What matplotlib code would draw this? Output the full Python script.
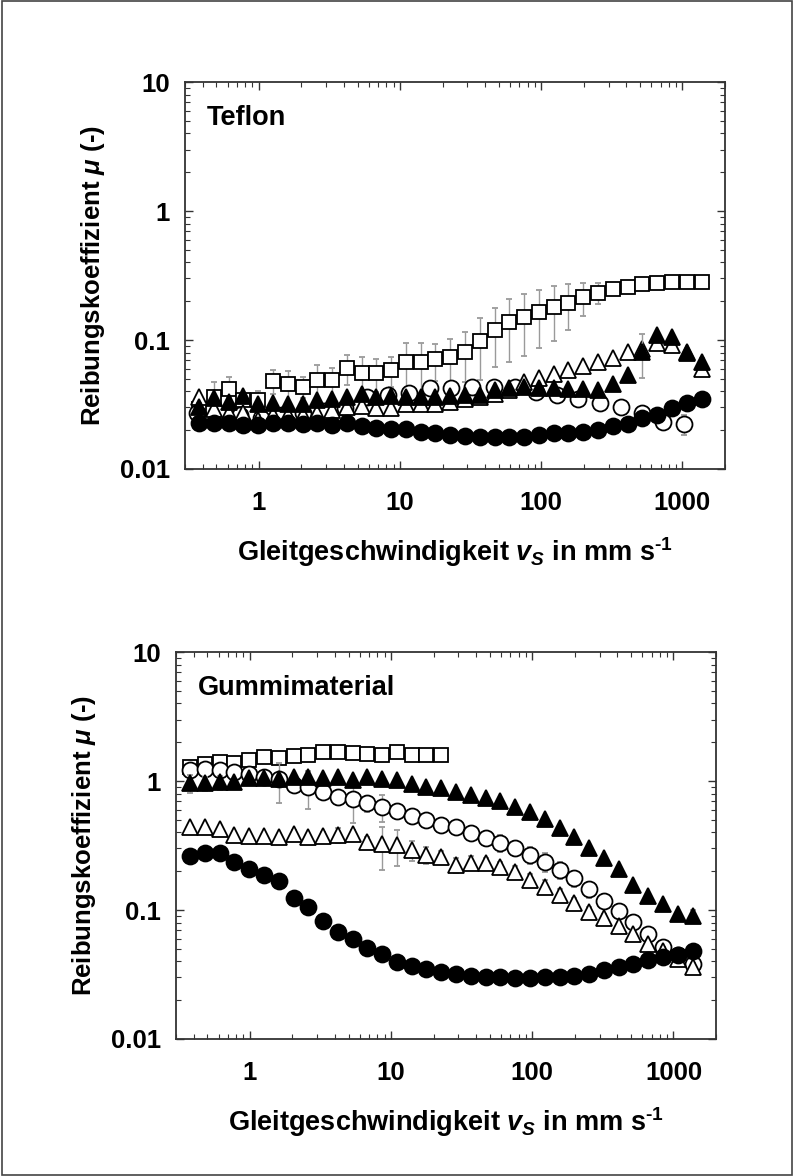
import matplotlib
matplotlib.use("Agg")
import matplotlib.pyplot as plt
from matplotlib.ticker import LogLocator, NullFormatter, FixedLocator, FixedFormatter
from matplotlib.patches import Rectangle

plt.rcParams["font.family"] = ["Liberation Sans", "DejaVu Sans"]
plt.rcParams["font.weight"] = "bold"
plt.rcParams["mathtext.fontset"] = "custom"
plt.rcParams["mathtext.rm"] = "Liberation Sans:bold"
plt.rcParams["mathtext.it"] = "Liberation Sans:bold:italic"
plt.rcParams["mathtext.bf"] = "Liberation Sans:bold"

# sliding speeds (mm/s) of the fine measurement grid
v_fine = [0.377, 0.480, 0.610, 0.776, 0.988, 1.257, 1.60, 2.04, 2.59, 3.30,
          4.20, 5.34, 6.80, 8.65, 11.0, 14.0, 17.8, 22.7, 28.9, 36.7,
          46.8, 59.5, 75.7, 96.4, 122.7, 156, 199, 253, 322, 409,
          521, 663, 844, 1074, 1366]
# sliding speeds (mm/s) of the coarser grid
v_coarse = [0.366, 0.516, 0.730, 1.03, 1.456, 2.056, 2.904, 4.10, 5.79, 8.18,
            11.56, 16.3, 23.1, 32.6, 46.0, 65.0, 91.8, 129.7, 183.2, 258.8,
            365.6, 516, 729, 1030]

# --- Teflon ---
tef_square = [0.029, 0.0364, 0.0414, 0.034, 0.0343, 0.0481, 0.0456, 0.0435, 0.049, 0.049,
              0.061, 0.0558, 0.0558, 0.0585, 0.0671, 0.0671, 0.0709, 0.0743, 0.0811, 0.0989,
              0.1196, 0.1387, 0.1518, 0.166, 0.181, 0.195, 0.214, 0.233, 0.249, 0.259,
              0.270, 0.278, 0.280, 0.280, 0.283]
tef_square_err = [0.004, 0.011, 0.010, 0.005, 0.006, 0.010, 0.012, 0.008, 0.015, 0.012,
                  0.016, 0.018, 0.016, 0.015, 0.028, 0.028, 0.023, 0.028, 0.034, 0.050,
                  0.058, 0.071, 0.077, 0.080, 0.082, 0.075, 0.061, 0.042, 0.020, 0.008,
                  0.005, 0.004, 0.004, 0.004, 0.004]
tef_circle_open = [0.0273, 0.027, 0.0262, 0.025, 0.026, 0.027, 0.028, 0.0295, 0.0364, 0.0378,
                   0.039, 0.0422, 0.0426, 0.043, 0.043, 0.043, 0.0398, 0.0375, 0.0348, 0.0323,
                   0.0304, 0.027, 0.0233, 0.0224]
tef_circle_open_err = [0.002, 0.002, 0.002, 0.004, 0.002, 0.002, 0.002, 0.002, 0.003, 0.003,
                       0.003, 0.003, 0.003, 0.003, 0.003, 0.003, 0.003, 0.003, 0.003, 0.003,
                       0.003, 0.003, 0.003, 0.004]
tef_tri_open = [0.036, 0.029, 0.027, 0.027, 0.024, 0.026, 0.026, 0.026, 0.027, 0.0287,
                0.030, 0.031, 0.0295, 0.0295, 0.032, 0.032, 0.032, 0.033, 0.035, 0.036,
                0.038, 0.041, 0.0475, 0.051, 0.0545, 0.0585, 0.063, 0.068, 0.072, 0.081,
                0.085, 0.094, 0.092, 0.079, 0.060]
tef_tri_open_err = [0.002] * 35
tef_tri_fill = [0.0304, 0.0357, 0.0333, 0.0368, 0.0319, 0.0323, 0.0319, 0.0319, 0.0343, 0.0348,
                0.036, 0.0381, 0.0364, 0.0368, 0.0364, 0.0364, 0.0364, 0.0368, 0.0375, 0.0375,
                0.041, 0.0422, 0.043, 0.0422, 0.0422, 0.0414, 0.0414, 0.041, 0.0453, 0.0536,
                0.0804, 0.109, 0.105, 0.0811, 0.0679]
tef_tri_fill_err = [0.002] * 30 + [0.030, 0.004, 0.004, 0.004, 0.005]
tef_circle_fill = [0.0226, 0.0228, 0.0226, 0.0219, 0.0219, 0.0228, 0.0226, 0.0224, 0.0226, 0.0219,
                   0.0226, 0.0215, 0.0208, 0.0204, 0.0204, 0.0195, 0.0190, 0.0184, 0.0181, 0.0178,
                   0.0176, 0.0176, 0.0178, 0.0184, 0.0191, 0.0191, 0.0195, 0.0201, 0.0217, 0.0222,
                   0.0250, 0.0263, 0.0296, 0.0324, 0.0347]
tef_circle_fill_err = [0.001] * 35

# --- Gummimaterial ---
gum_square = [1.28, 1.35, 1.40, 1.38, 1.46, 1.55, 1.50, 1.56, 1.58, 1.67,
              1.68, 1.64, 1.62, 1.60, 1.68, 1.60, 1.59, 1.59]
gum_square_err = [0.08, 0.08, 0.10, 0.08, 0.06, 0.05, 0.05, 0.05, 0.05, 0.05,
                  0.05, 0.05, 0.05, 0.05, 0.05, 0.05, 0.05, 0.05]
gum_circle_open = [1.217, 1.232, 1.217, 1.181, 1.127, 1.068, 1.03, 0.931, 0.904, 0.826,
                   0.756, 0.721, 0.671, 0.632, 0.585, 0.536, 0.498, 0.46, 0.438, 0.397,
                   0.363, 0.333, 0.301, 0.267, 0.237, 0.204, 0.176, 0.145, 0.118, 0.099,
                   0.081, 0.065, 0.052, 0.045, 0.038]
gum_circle_open_err = [0.10, 0.10, 0.12, 0.10, 0.10, 0.08, 0.35, 0.08, 0.30, 0.10,
                       0.10, 0.25, 0.10, 0.15, 0.08, 0.07, 0.06, 0.06, 0.05, 0.05,
                       0.05, 0.05, 0.04, 0.04, 0.04, 0.03, 0.025, 0.02, 0.015, 0.012,
                       0.010, 0.008, 0.006, 0.005, 0.004]
gum_tri_fill = [0.959, 0.959, 0.977, 0.977, 1.049, 1.049, 1.03, 1.068, 1.068, 1.049,
                1.068, 1.018, 1.068, 1.03, 1.018, 0.943, 0.904, 0.878, 0.817, 0.779,
                0.734, 0.700, 0.632, 0.578, 0.505, 0.435, 0.370, 0.301, 0.252, 0.207,
                0.156, 0.128, 0.111, 0.0926, 0.0898]
gum_tri_fill_err = [0.15, 0.12, 0.12, 0.05, 0.05, 0.05, 0.05, 0.05, 0.05, 0.05,
                    0.05, 0.05, 0.05, 0.05, 0.05, 0.04, 0.04, 0.04, 0.03, 0.03,
                    0.03, 0.03, 0.03, 0.02, 0.02, 0.02, 0.02, 0.015, 0.012, 0.01,
                    0.008, 0.006, 0.006, 0.006, 0.01]
gum_tri_open = [0.438, 0.438, 0.422, 0.381, 0.377, 0.375, 0.366, 0.388, 0.370, 0.375,
                0.381, 0.386, 0.338, 0.323, 0.319, 0.292, 0.267, 0.259, 0.224, 0.233,
                0.233, 0.217, 0.198, 0.171, 0.152, 0.131, 0.113, 0.097, 0.0865, 0.075,
                0.065, 0.055, 0.048, 0.042, 0.036]
gum_tri_open_err = [0.02, 0.02, 0.02, 0.02, 0.02, 0.02, 0.02, 0.03, 0.02, 0.03,
                    0.05, 0.03, 0.03, 0.12, 0.10, 0.05, 0.04, 0.03, 0.03, 0.03,
                    0.02, 0.02, 0.02, 0.02, 0.02, 0.015, 0.01, 0.008, 0.006, 0.005,
                    0.005, 0.004, 0.004, 0.004, 0.003]
gum_circle_fill = [0.262, 0.275, 0.275, 0.237, 0.207, 0.187, 0.168, 0.125, 0.105, 0.0827,
                   0.0679, 0.0596, 0.051, 0.0453, 0.0397, 0.037, 0.0349, 0.0333, 0.032, 0.031,
                   0.030, 0.030, 0.0295, 0.0295, 0.030, 0.030, 0.031, 0.032, 0.034, 0.036,
                   0.038, 0.041, 0.043, 0.045, 0.048]
gum_circle_fill_err = [0.03, 0.03, 0.03, 0.01, 0.01, 0.01, 0.015, 0.01, 0.01, 0.004,
                       0.003, 0.003, 0.002, 0.002, 0.002, 0.002, 0.002, 0.002, 0.002, 0.002,
                       0.002, 0.002, 0.002, 0.002, 0.002, 0.002, 0.002, 0.002, 0.002, 0.002,
                       0.002, 0.002, 0.002, 0.002, 0.003]

ytick_vals = [0.01, 0.1, 1, 10]
ytick_text = ["0.01", "0.1", "1", "10"]
xtick_vals = [1, 10, 100, 1000]
xtick_text = ["1", "10", "100", "1000"]

fig = plt.figure(figsize=(7.94, 11.76), dpi=100)
fig.patches.append(Rectangle((0.002, 0.001), 0.996, 0.998, transform=fig.transFigure,
                             fill=False, edgecolor="#444444", linewidth=1.2))

ERR = dict(ecolor="#9a9a9a", elinewidth=1.0, capsize=2.5, capthick=1.0, linestyle="none")
MS_C = 11.5
MS_T = 11.5
MS_S = 10.0


def draw(ax, v, y, err, marker, filled, ms, z):
    ax.errorbar(v, y, yerr=err, marker=marker, markersize=ms,
                markerfacecolor="black" if filled else "white",
                markeredgecolor="black", markeredgewidth=1.3,
                zorder=z, **ERR)


def style(ax, title):
    ax.set_xscale("log")
    ax.set_yscale("log")
    ax.set_xlim(0.3, 2000)
    ax.set_ylim(0.01, 10)
    ax.xaxis.set_major_locator(FixedLocator(xtick_vals))
    ax.xaxis.set_major_formatter(FixedFormatter(xtick_text))
    ax.yaxis.set_major_locator(FixedLocator(ytick_vals))
    ax.yaxis.set_major_formatter(FixedFormatter(ytick_text))
    ax.xaxis.set_minor_locator(LogLocator(base=10, subs=range(2, 10)))
    ax.yaxis.set_minor_locator(LogLocator(base=10, subs=range(2, 10)))
    ax.xaxis.set_minor_formatter(NullFormatter())
    ax.yaxis.set_minor_formatter(NullFormatter())
    ax.tick_params(which="both", direction="in", top=True, right=True,
                   color="#333333")
    ax.tick_params(which="major", length=6, width=1.0, labelsize=18.5, pad=11)
    ax.tick_params(which="minor", length=3.5, width=0.8)
    ax.tick_params(axis="x", which="major", pad=16)
    for lab in ax.get_xticklabels() + ax.get_yticklabels():
        lab.set_fontweight("bold")
    for sp in ax.spines.values():
        sp.set_linewidth(1.3)
        sp.set_color("#333333")
    ax.set_xlabel(r"Gleitgeschwindigkeit $v_S$ in mm s$^{\text{-1}}$",
                  fontsize=19.5, fontweight="bold")
    ax.set_ylabel(r"Reibungskoeffizient $\mu$ (-)", fontsize=18.5, fontweight="bold")
    ax.xaxis.set_label_coords(0.5, -0.172)
    ax.yaxis.set_label_coords(-0.145, 0.5)
    ax.text(0.041, 0.94, title, transform=ax.transAxes, fontsize=19.5,
            fontweight="bold", va="top", ha="left")


# top panel: Teflon
ax1 = fig.add_axes([0.233, 0.6012, 0.680, 0.329])
draw(ax1, v_fine, tef_square, tef_square_err, "s", False, MS_S, 3)
draw(ax1, v_coarse, tef_circle_open, tef_circle_open_err, "o", False, MS_C, 4)
draw(ax1, v_fine, tef_tri_open, tef_tri_open_err, "^", False, MS_T, 5)
draw(ax1, v_fine, tef_tri_fill, tef_tri_fill_err, "^", True, MS_T, 6)
draw(ax1, v_fine, tef_circle_fill, tef_circle_fill_err, "o", True, MS_C, 7)
style(ax1, "Teflon")

# bottom panel: Gummimaterial
ax2 = fig.add_axes([0.2217, 0.1165, 0.680, 0.329])
draw(ax2, v_fine[:len(gum_square)], gum_square, gum_square_err, "s", False, MS_S, 3)
draw(ax2, v_fine, gum_circle_open, gum_circle_open_err, "o", False, MS_C, 4)
draw(ax2, v_fine, gum_tri_open, gum_tri_open_err, "^", False, MS_T, 5)
draw(ax2, v_fine, gum_tri_fill, gum_tri_fill_err, "^", True, MS_T, 6)
draw(ax2, v_fine, gum_circle_fill, gum_circle_fill_err, "o", True, MS_C, 7)
style(ax2, "Gummimaterial")

fig.savefig("out.png", dpi=100)
